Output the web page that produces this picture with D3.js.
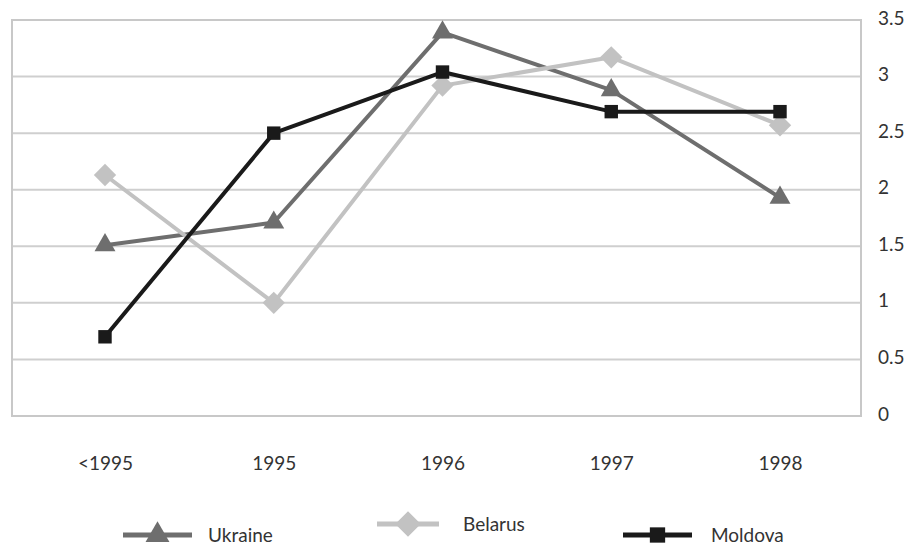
<!DOCTYPE html>
<html><head><meta charset="utf-8">
<script src="https://cdn.jsdelivr.net/npm/d3@7"></script>
<style>body{margin:0;background:#fff}svg{display:block}text{font-family:"Lato","Open Sans",sans-serif;fill:#333}</style>
</head><body><svg id="c" width="913" height="546"></svg>
<script>
const categories = ["<1995","1995","1996","1997","1998"];
const ukraine = [1.51, 1.71, 3.39, 2.88, 1.93];
const belarus = [2.13, 1.0, 2.92, 3.17, 2.57];
const moldova = [0.70, 2.50, 3.04, 2.69, 2.69];
const yTicks = [0,0.5,1,1.5,2,2.5,3,3.5];
const yTickLabels = ["0","0.5","1","1.5","2","2.5","3","3.5"];
const seriesNames = ["Ukraine","Belarus","Moldova"];

const svg = d3.select("#c");
const L=12,R=861,T=20,B=416;
const x = d3.scalePoint().domain(categories).range([105,780]);
const y = d3.scaleLinear().domain([0,3.5]).range([B,T]);

svg.append("g").selectAll("line").data(yTicks).join("line")
  .attr("x1",L).attr("x2",R).attr("y1",d=>y(d)).attr("y2",d=>y(d))
  .attr("stroke","#cfcfcf").attr("stroke-width",2);
svg.append("rect").attr("x",L).attr("y",T).attr("width",R-L).attr("height",B-T)
  .attr("fill","none").attr("stroke","#c8c8c8").attr("stroke-width",2);

const ya = d3.axisRight(y).tickValues(yTicks).tickSize(0).tickPadding(0)
  .tickFormat((d,i)=>yTickLabels[i]);
const gy = svg.append("g").attr("transform",`translate(878,-2)`).call(ya);
gy.select(".domain").remove();
gy.selectAll("text").style("font-size","19px").attr("fill","#333");

const xa = d3.axisBottom(x).tickSize(0).tickPadding(0);
const gx = svg.append("g").attr("transform",`translate(0,456)`).call(xa);
gx.select(".domain").remove();
gx.selectAll("text").style("font-size","19px").attr("fill","#333");

const diamond = {draw(ctx,size){const r=Math.sqrt(size/2);ctx.moveTo(0,-r);ctx.lineTo(r,0);ctx.lineTo(0,r);ctx.lineTo(-r,0);ctx.closePath();}};
const series = [
  {name:seriesNames[0], vals:ukraine, color:"#6e6e6e", sym:d3.symbolTriangle, size:190},
  {name:seriesNames[1], vals:belarus, color:"#c2c2c2", sym:diamond, size:250},
  {name:seriesNames[2], vals:moldova, color:"#1a1a1a", sym:d3.symbolSquare, size:180}
];
const line = d3.line().x((d,i)=>x(categories[i])).y(d=>y(d));
series.forEach(s=>{
  svg.append("path").datum(s.vals).attr("d",line).attr("fill","none")
    .attr("stroke",s.color).attr("stroke-width",4).attr("stroke-linejoin","round");
});
series.forEach(s=>{
  svg.append("g").selectAll("path").data(s.vals).join("path")
    .attr("transform",(d,i)=>`translate(${x(categories[i])},${y(d)})`)
    .attr("d",d3.symbol().type(s.sym).size(s.size)).attr("fill",s.color);
});

const leg = [{x1:123,x2:192,tx:208,y:535},{x1:377,x2:439,tx:463,y:524},{x1:623,x2:692,tx:711,y:535}];
series.forEach((s,i)=>{
  const l=leg[i];
  svg.append("line").attr("x1",l.x1).attr("x2",l.x2).attr("y1",l.y).attr("y2",l.y)
    .attr("stroke",s.color).attr("stroke-width",5);
  svg.append("path").attr("transform",`translate(${(l.x1+l.x2)/2},${l.y})`)
    .attr("d",d3.symbol().type(s.sym).size(s.size*1.3)).attr("fill",s.color);
  svg.append("text").attr("x",l.tx).attr("y",l.y+7).style("font-size","19px").text(s.name);
});
</script></body></html>
